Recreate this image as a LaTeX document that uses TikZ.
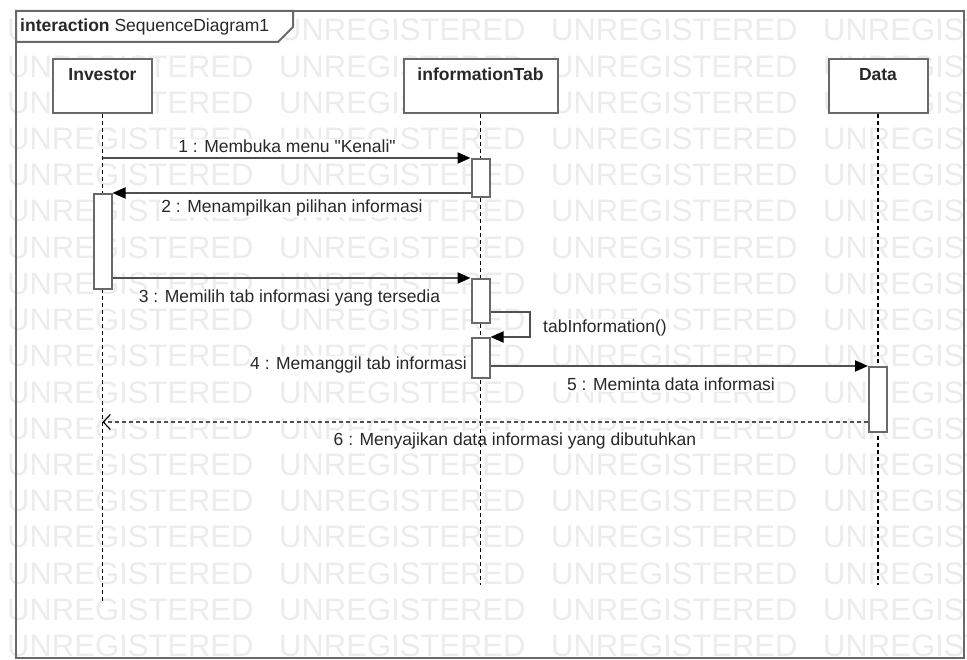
\documentclass[tikz,border=0pt]{standalone}
\usepackage{fontspec}
\newfontfamily\uifont{Liberation Sans}
\usetikzlibrary{arrows.meta}
\definecolor{wmark}{RGB}{236,236,236}
\definecolor{edge}{RGB}{105,105,105}
\definecolor{msgline}{RGB}{80,80,80}
\definecolor{ink}{RGB}{40,40,40}

\begin{document}
\begin{tikzpicture}[x=1pt,y=-1pt,
  txt/.style={font=\uifont\fontsize{17.5}{20}\selectfont, text=ink},
  lbl/.style={txt, fill=white, inner sep=1pt, anchor=base},
  headbox/.style={draw=edge, line width=2pt, fill=white, inner sep=0pt,
    minimum width=#1, text height=22pt, text depth=32pt,
    font=\uifont\fontsize{17.5}{20}\selectfont\bfseries, text=ink},
  actbox/.style={draw=edge, line width=2pt, fill=white, inner sep=0pt,
    minimum width=18pt, minimum height=#1},
  lifeline/.style={black, line width=1.3pt, dash pattern=on 4pt off 3pt},
  msg/.style={msgline, line width=2pt,
    -{Triangle[length=13pt,width=11pt,fill=black,color=black]}},
  reply/.style={msgline, line width=1.4pt, dash pattern=on 4pt off 3pt,
    -{Straight Barb[length=7pt,width=15pt,line width=1.2pt,color=black]}},
  framepen/.style={draw=edge, line width=2pt},
  wm/.style={font=\uifont\fontsize{31}{31}\selectfont, text=wmark, inner sep=0pt, anchor=base west}
]
\useasboundingbox (0,0) rectangle (967,660);
\fill[white] (0,0) rectangle (967,660);

% background watermark rows
\begin{scope}
  \clip (0,0) rectangle (967,660);
  \foreach \r in {0,...,17} {
    \foreach \c in {0,...,3} {
      \node[wm] (wm-\r-\c) at (7+272*\c, 41+36.2*\r) {UNREGISTERED};
    }
  }
\end{scope}

% interaction frame with its name tab
\draw[framepen] (16,11) rectangle (964,658);
\draw[framepen, fill=white] (16,11) -- (293,11) -- (293,27) -- (278,42) -- (16,42) -- cycle;
\node[txt, anchor=base west, inner sep=0pt] (title) at (20,32)
  {\textbf{interaction} SequenceDiagram1};

% message labels
\node[lbl] (l1) at (287,152.5) {1 : Membuka menu "Kenali"};
\node[lbl] (l2) at (292,212.5) {2 : Menampilkan pilihan informasi};
\node[lbl] (l3) at (289.5,302.5) {3 : Memilih tab informasi yang tersedia};
\node[lbl, anchor=base west] (lself) at (542,333) {tabInformation()};
\node[lbl, anchor=base east] (l4) at (468,370) {4 : Memanggil tab informasi};
\node[lbl] (l5) at (671,390.5) {5 : Meminta data informasi};
\node[lbl] (l6) at (515,445) {6 : Menyajikan data informasi yang dibutuhkan};

% lifeline heads
\node[headbox=99pt] (inv) at (102.5,86) {Investor};
\node[headbox=154pt] (tab) at (480.5,86) {informationTab};
\node[headbox=99pt] (dat) at (878,86) {Data};

% lifeline ends
\coordinate (invend) at (102.5,603);
\coordinate (tabend) at (480.5,585);
\coordinate (datend) at (878,585);

\draw[lifeline] (inv.south) -- (invend);
\draw[lifeline] (tab.south) -- (tabend);
\draw[lifeline] (dat.south) -- (datend);

% activation bars
\node[actbox=38pt] (a1) at (480.5,178) {};
\node[actbox=95pt] (b1) at (102.5,241.5) {};
\node[actbox=44pt] (a2) at (480.5,301) {};
\node[actbox=40pt] (a3) at (480.5,358) {};
\node[actbox=65pt] (d1) at (878,399.5) {};

% messages
\draw[msg] (inv.south |- a1.north west) -- (a1.north west);
\draw[msg] (a1.west |- b1.north east) -- (b1.north east);
\draw[msg] (b1.east |- a2.north west) -- (a2.north west);
\coordinate (selfout) at (530,312);
\draw[msg] (a2.east |- selfout) -- (selfout) -- (selfout |- a3.north east) -- (a3.north east);
\draw[msg] (a3.east |- d1.north west) -- (d1.north west);
\coordinate (ret) at (0,422);
\draw[reply] (d1.west |- ret) -- (inv.south |- ret);
\end{tikzpicture}
\end{document}
